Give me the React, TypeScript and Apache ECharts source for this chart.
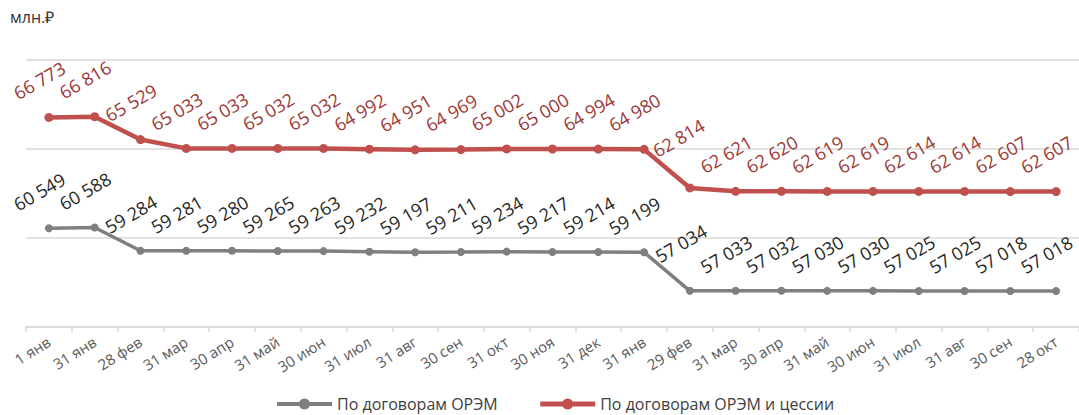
import React, { useEffect, useRef } from "react";
import * as echarts from "echarts";

const categories = [
  "1 янв", "31 янв", "28 фев", "31 мар", "30 апр", "31 май", "30 июн", "31 июл",
  "31 авг", "30 сен", "31 окт", "30 ноя", "31 дек", "31 янв", "29 фев", "31 мар",
  "30 апр", "31 май", "30 июн", "31 июл", "31 авг", "30 сен", "28 окт",
];

const oremValues = [
  60549, 60588, 59284, 59281, 59280, 59265, 59263, 59232, 59197, 59211, 59234, 59217,
  59214, 59199, 57034, 57033, 57032, 57030, 57030, 57025, 57025, 57018, 57018,
];

const oremCessionValues = [
  66773, 66816, 65529, 65033, 65033, 65032, 65032, 64992, 64951, 64969, 65002, 65000,
  64994, 64980, 62814, 62621, 62620, 62619, 62619, 62614, 62614, 62607, 62607,
];

const seriesNames = ["По договорам ОРЭМ", "По договорам ОРЭМ и цессии"];
const unitLabel = "млн.₽";

const FONT = "'Open Sans', sans-serif";

const fmt = (v: number) => {
  const s = String(Math.round(v));
  return s.replace(/\B(?=(\d{3})+(?!\d))/g, " ");
};

export default function App() {
  const ref = useRef<HTMLDivElement>(null);

  useEffect(() => {
    if (!ref.current) return;
    const chart = echarts.init(ref.current, undefined, { renderer: "svg" });

    const makeLabel = (color: string) => ({
      show: true,
      position: "top" as const,
      distance: 0,
      rotate: 30,
      align: "center",
      verticalAlign: "middle",
      offset: [8, -33],
      color,
      fontFamily: FONT,
      fontSize: 18,
      formatter: (p: any) => fmt(p.value),
    });

    const withSpecial = (vals: number[], special: number[]) =>
      vals.map((v, i) =>
        i === 14 ? { value: v, label: { offset: special } } : v
      );

    chart.setOption({
      animation: false,
      textStyle: { fontFamily: FONT },
      grid: { left: 26, top: 60, width: 1056, bottom: 88 },
      graphic: [
        {
          type: "text",
          left: 10,
          top: 9,
          style: { text: unitLabel, fontSize: 16, fill: "#333", fontFamily: FONT },
        },
      ],
      legend: {
        left: 275,
        top: 396,
        padding: 0,
        itemWidth: 55,
        itemHeight: 14,
        itemGap: 40,
        textStyle: { fontSize: 16, color: "#404040", fontFamily: FONT },
        data: [
          { name: seriesNames[0], lineStyle: { width: 4 } },
          { name: seriesNames[1], lineStyle: { width: 5 } },
        ],
      },
      xAxis: {
        type: "category",
        data: categories,
        boundaryGap: true,
        axisLine: { lineStyle: { color: "#d9d9d9", width: 1.5 } },
        axisTick: { show: true, length: 5, lineStyle: { color: "#d9d9d9", width: 1.5 } },
        axisLabel: {
          rotate: 32,
          margin: 13,
          interval: 0,
          fontSize: 15,
          color: "#595959",
          fontFamily: FONT,
        },
      },
      yAxis: {
        type: "value",
        min: 55000,
        max: 70000,
        interval: 5000,
        axisLabel: { show: false },
        axisLine: { show: false },
        axisTick: { show: false },
        splitLine: { lineStyle: { color: "#d9d9d9", width: 1.5 } },
      },
      series: [
        {
          name: seriesNames[0],
          type: "line",
          data: withSpecial(oremValues, [14, -42]),
          symbol: "circle",
          symbolSize: 8,
          itemStyle: { color: "#7f7f7f" },
          lineStyle: { color: "#7f7f7f", width: 3.5 },
          label: makeLabel("#262626"),
        },
        {
          name: seriesNames[1],
          type: "line",
          data: withSpecial(oremCessionValues, [13, -45]),
          symbol: "circle",
          symbolSize: 9,
          itemStyle: { color: "#c0504d" },
          lineStyle: { color: "#c0504d", width: 4.5 },
          label: makeLabel("#9b3633"),
        },
      ],
    });

    return () => chart.dispose();
  }, []);

  return (
    <div
      ref={ref}
      style={{ position: "fixed", left: 0, top: 0, width: 1079, height: 415, background: "#fff" }}
    />
  );
}
